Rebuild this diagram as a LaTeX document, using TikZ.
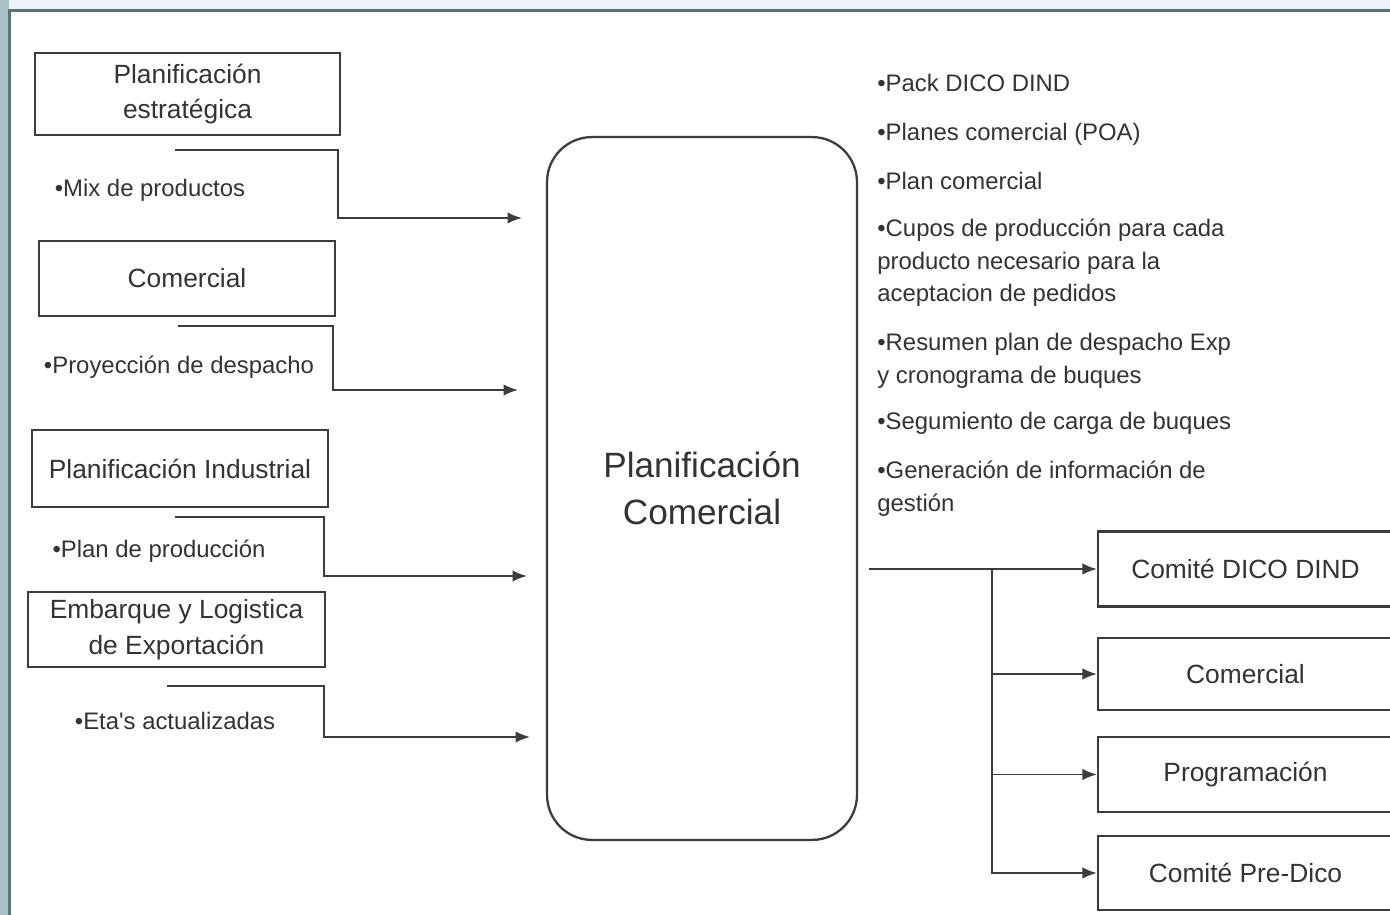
\documentclass[tikz,border=0pt]{standalone}
\usepackage{fontspec}
\setmainfont{Liberation Sans}
\usepackage{tikz}
\usetikzlibrary{arrows.meta}

\definecolor{marco}{HTML}{5C7373}
\definecolor{fondoizq}{HTML}{A9C3C6}
\definecolor{fondosup}{HTML}{EDF2F9}
\definecolor{trazo}{HTML}{3C3C3C}

\tikzset{
    bloque/.style={draw=trazo, line width=1.3pt, text=black!80, align=center, inner sep=0pt,
        font=\fontsize{15}{20.4}\selectfont},
    vineta/.style={text=black!80, inner sep=0pt, align=left,
        font=\fontsize{13.6}{18.5}\selectfont},
    flujo/.style={draw=trazo, line width=1.1pt, -{Latex[length=2.9mm,width=2.3mm]}},
}

\begin{document}
\begin{tikzpicture}[x=0.02cm, y=-0.02cm]
    \useasboundingbox (0,0) rectangle (1390,915);
    % Frame
    \fill[white] (0,0) rectangle (1390,915);
    \fill[fondosup] (0,0) rectangle (1390,10);
    \fill[fondoizq] (0,0) rectangle (9,915);
    \draw[marco, line width=1.4pt] (9.5,915) -- (9.5,10.5) -- (1390,10.5);

    % Inputs
    \node[bloque, minimum width=6.1cm, minimum height=1.64cm] (pe) at (187.5,94) {Planificación\\estratégica};
    \node[bloque, minimum width=5.92cm, minimum height=1.5cm] (com) at (187,278.5) {Comercial};
    \node[bloque, minimum width=5.92cm, minimum height=1.54cm] (pi) at (180,468.5) {Planificación Industrial};
    \node[bloque, minimum width=5.94cm, minimum height=1.5cm] (el) at (176.5,629.5) {Embarque y Logistica\\de Exportación};

    \node[vineta] (mix) at (150,190) {•Mix de productos};
    \node[vineta] (pd) at (179,367) {•Proyección de despacho};
    \node[vineta] (pp) at (159,551) {•Plan de producción};
    \node[vineta] (eta) at (175,721) {•Eta\textquotesingle s actualizadas};

    \coordinate (s1) at (175,150);
    \coordinate (e1) at (522,218);
    \coordinate (s2) at (178,326);
    \coordinate (e2) at (518,390);
    \coordinate (s3) at (175,517);
    \coordinate (e3) at (527,576);
    \coordinate (s4) at (167,686);
    \coordinate (e4) at (530,737);
    \draw[flujo] (s1) -- ++(163,0) |- (e1);
    \draw[flujo] (s2) -- ++(155,0) |- (e2);
    \draw[flujo] (s3) -- ++(149,0) |- (e3);
    \draw[flujo] (s4) -- ++(157,0) |- (e4);

    % Center
    \node[bloque, rounded corners=0.9cm, minimum width=6.2cm, minimum height=14.06cm,
        font=\fontsize{20}{27}\selectfont] (pc) at (702,488.5) {Planificación\\Comercial};

    % Outputs
    \node[vineta, anchor=north west] (o1) at (877,74) {•Pack DICO DIND};
    \node[vineta, anchor=north west] (o2) at (877,123) {•Planes comercial (POA)};
    \node[vineta, anchor=north west] (o3) at (877,172) {•Plan comercial};
    \node[vineta, anchor=north west] (o4) at (877,219) {•Cupos de producción para cada\\producto necesario para la\\aceptacion de pedidos};
    \node[vineta, anchor=north west] (o5) at (877,333) {•Resumen plan de despacho Exp\\y cronograma de buques};
    \node[vineta, anchor=north west] (o6) at (877,412) {•Segumiento de carga de buques};
    \node[vineta, anchor=north west] (o7) at (877,461) {•Generación de información de\\gestión};

    \begin{scope}
        \clip (0,0) rectangle (1390,915);
        \node[bloque, minimum width=5.9cm, minimum height=1.5cm] (cd) at (1245.5,569) {Comité DICO DIND};
        \node[bloque, minimum width=5.9cm, minimum height=1.44cm] (co) at (1245.5,674) {Comercial};
        \node[bloque, minimum width=5.9cm, minimum height=1.5cm] (pr) at (1245.5,774.5) {Programación};
        \node[bloque, minimum width=5.9cm, minimum height=1.48cm] (cp) at (1245.5,873) {Comité Pre-Dico};
    \end{scope}

    \coordinate (sal) at (869,569);
    \coordinate (bus) at (992,569);
    \draw[flujo] (sal) -- (cd.west);
    \draw[flujo] (bus) |- (co.west);
    \draw[flujo] (bus) |- (pr.west);
    \draw[flujo] (bus) |- (cp.west);
\end{tikzpicture}
\end{document}
